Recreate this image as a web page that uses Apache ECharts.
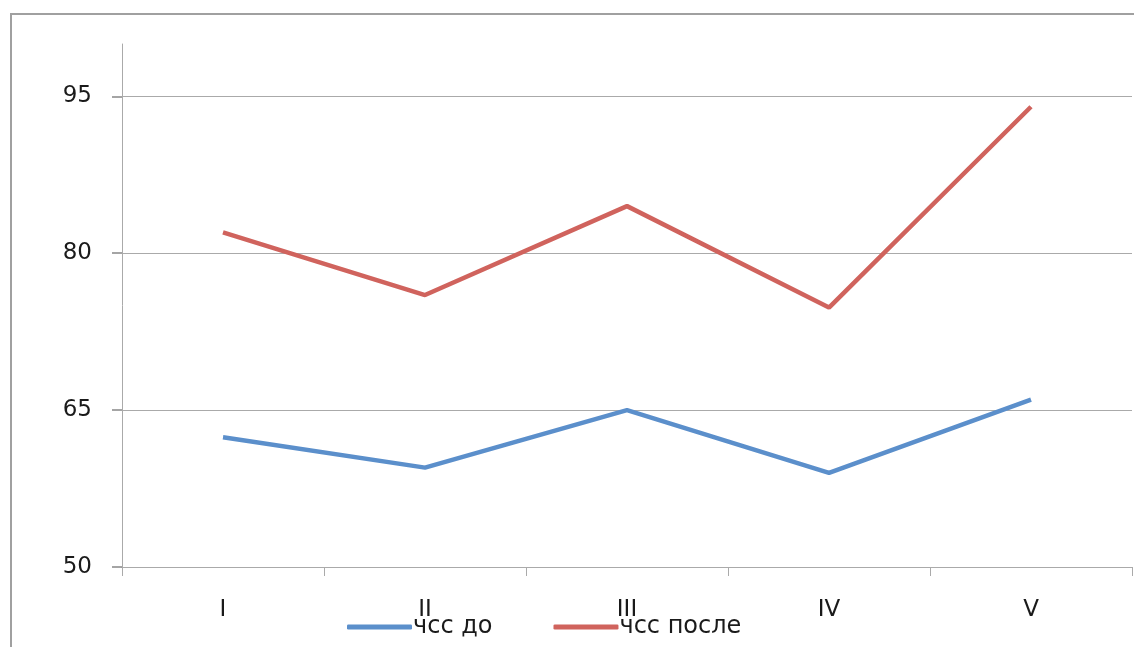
<!DOCTYPE html>
<html><head><meta charset="utf-8">
<script src="https://cdn.jsdelivr.net/npm/echarts@6/dist/echarts.min.js"></script>
<style>html,body{margin:0;padding:0;background:#fff}#c{width:1134px;height:647px}</style>
</head><body><div id="c"></div>
<script>
const categories = ['I', 'II', 'III', 'IV', 'V'];
const seriesNames = ['чсс до', 'чсс после'];
const before = [62.4, 59.5, 65, 59, 66];
const after = [82, 76, 84.5, 74.8, 94];

const chart = echarts.init(document.getElementById('c'));
const font = 'DejaVu Sans';
chart.setOption({
  animation: false,
  graphic: [{type: 'polyline', shape: {points: [[11, 647], [11, 14], [1134, 14]]}, style: {stroke: '#a0a0a0', lineWidth: 2, fill: null}}],
  grid: {left: 122, right: 2, top: 44, bottom: 80},
  legend: {
    bottom: 3, left: 342, itemWidth: 65, itemHeight: 5, itemGap: 61,
    icon: 'roundRect',
    textStyle: {fontFamily: font, fontSize: 24, color: '#1a1a1a', padding: [0, 0, 0, -4]},
    data: seriesNames
  },
  xAxis: {
    type: 'category', data: categories, boundaryGap: true,
    axisLine: {show: true, lineStyle: {color: '#aaaaaa', width: 1}},
    axisTick: {show: true, length: 9, lineStyle: {color: '#aaaaaa', width: 1}},
    axisLabel: {fontFamily: font, fontSize: 23, color: '#1a1a1a', margin: 32}
  },
  yAxis: {
    type: 'value', min: 50, max: 100, interval: 15,
    axisLine: {show: true, lineStyle: {color: '#aaaaaa', width: 1}},
    axisTick: {show: true, inside: false, length: 10, lineStyle: {color: '#888888', width: 1.5}},
    axisLabel: {fontFamily: font, fontSize: 23, color: '#1a1a1a', margin: 30, showMaxLabel: false},
    splitLine: {show: true, showMaxLine: false, lineStyle: {color: '#aaaaaa', width: 1}}
  },
  series: [
    {name: seriesNames[0], type: 'line', data: before, symbol: 'none', lineStyle: {color: '#5b8fcb', width: 4.5}, itemStyle: {color: '#5b8fcb'}},
    {name: seriesNames[1], type: 'line', data: after, symbol: 'none', lineStyle: {color: '#d0635d', width: 4.5}, itemStyle: {color: '#d0635d'}}
  ]
});
</script></body></html>
